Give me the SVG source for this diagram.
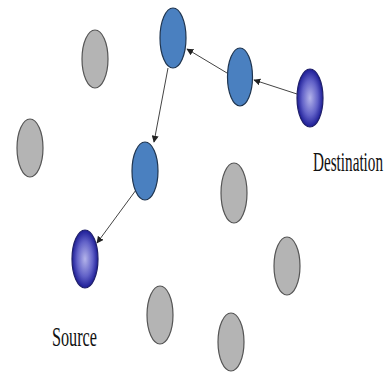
<svg xmlns="http://www.w3.org/2000/svg" width="392" height="372" viewBox="0 0 392 372">
<defs>
<radialGradient id="g" cx="0.5" cy="0.5" r="0.5">
<stop offset="0" stop-color="#b4b4ea"/>
<stop offset="0.6" stop-color="#6262c8"/>
<stop offset="1" stop-color="#1c1c96"/>
</radialGradient>
<marker id="ah" viewBox="0 0 10 10" refX="9" refY="5" markerWidth="7" markerHeight="7" orient="auto" markerUnits="userSpaceOnUse">
<path d="M0,0 L10,5 L0,10 z" fill="#222"/>
</marker>
</defs>
<style>
.gray{fill:#b4b4b4;stroke:#555;stroke-width:1.2}
.blue{fill:#4a80c0;stroke:#1f3550;stroke-width:1.2}
.end{fill:url(#g);stroke:#20206a;stroke-width:1.2}
.edge{stroke:#444;stroke-width:1;fill:none;marker-end:url(#ah)}
.lbl{font-family:"Liberation Serif","Times New Roman",serif;font-size:27px;fill:#111}
</style>
<g id="connectors">
<line class="edge" x1="227" y1="73" x2="187" y2="49"/>
<line class="edge" x1="297" y1="94" x2="254" y2="80"/>
<line class="edge" x1="168" y1="68" x2="154" y2="142"/>
<line class="edge" x1="136" y1="190" x2="97" y2="243"/>
</g>
<g id="n1"><ellipse class="blue" cx="173" cy="38" rx="13" ry="30"/></g>
<g id="n2"><ellipse class="blue" cx="240" cy="77" rx="12.5" ry="29"/></g>
<g id="n3"><ellipse class="blue" cx="145" cy="171" rx="13" ry="29"/></g>
<g id="destination"><ellipse class="end" cx="310" cy="98" rx="13" ry="29"/></g>
<g id="source"><ellipse class="end" cx="85" cy="259" rx="13" ry="29"/></g>
<g id="g1"><ellipse class="gray" cx="95" cy="59" rx="13" ry="29"/></g>
<g id="g2"><ellipse class="gray" cx="30" cy="148" rx="13" ry="29"/></g>
<g id="g3"><ellipse class="gray" cx="234" cy="193" rx="13" ry="30"/></g>
<g id="g4"><ellipse class="gray" cx="287" cy="266" rx="13" ry="29"/></g>
<g id="g5"><ellipse class="gray" cx="160" cy="315" rx="13" ry="29"/></g>
<g id="g6"><ellipse class="gray" cx="231" cy="342" rx="13" ry="29"/></g>
<g id="labels">
<text class="lbl" transform="translate(313,171) scale(0.56,1)" x="0" y="0" textLength="125" lengthAdjust="spacingAndGlyphs">Destination</text>
<text class="lbl" transform="translate(52,346) scale(0.6,1)" x="0" y="0" textLength="75" lengthAdjust="spacingAndGlyphs">Source</text>
</g>
</svg>
